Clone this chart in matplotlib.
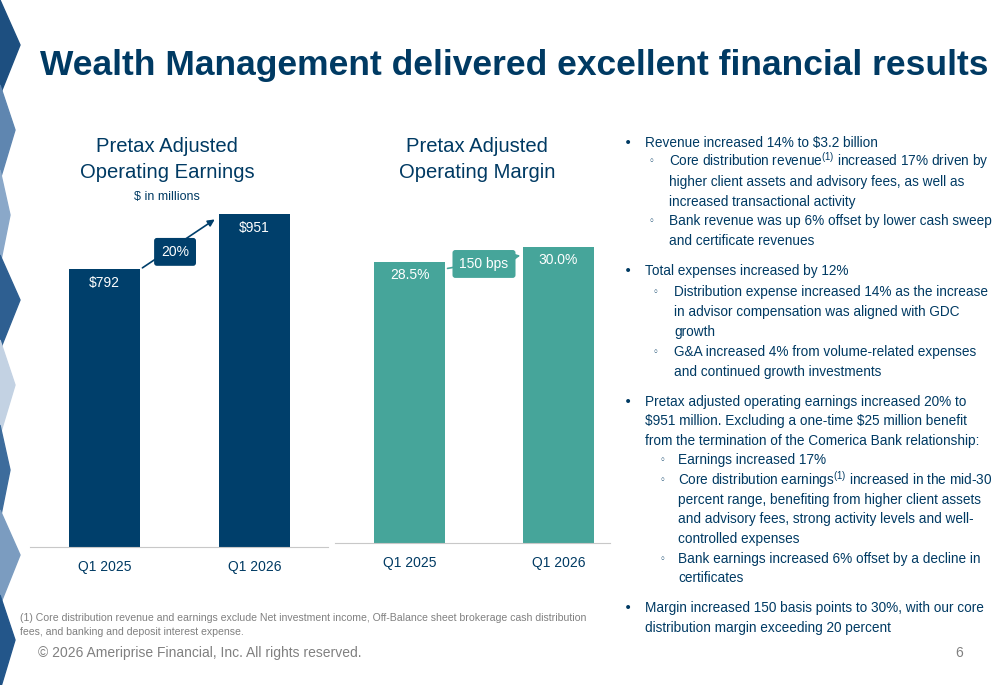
import matplotlib.pyplot as plt
from matplotlib.patches import Polygon

FAM = 'Liberation Sans'
plt.rcParams['font.family'] = [FAM, 'DejaVu Sans']
plt.rcParams['mathtext.fontset'] = 'custom'
plt.rcParams['mathtext.rm'] = FAM

quarters = ['Q1 2025', 'Q1 2026']
earnings = [792, 951]
earn_labels = ['$792', '$951']
margin = [28.5, 30.0]
margin_labels = ['28.5%', '30.0%']

NAVY = '#003f6b'
TEAL = '#46a59a'
TXT = '#003a63'

W, H = 1000, 685
fig = plt.figure(figsize=(10, 6.85), dpi=100)

def fx(px):
    return px / W

def fy(py):
    return 1 - py / H

# decorative left edge
shades = ['#1d4f80', '#5f86b0', '#8aa8c9', '#2e5f91', '#c3d2e3', '#3d6c9c', '#7b9cc0', '#23568a']
for i, y0 in enumerate(range(0, 685, 85)):
    pts = [(0, fy(y0)), (fx(20 - (i % 3) * 5), fy(y0 + 45)), (0, fy(y0 + 95))]
    fig.patches.append(Polygon(pts, closed=True, transform=fig.transFigure,
                               color=shades[i % len(shades)], zorder=0))

fig.text(fx(40), fy(66), 'Wealth Management delivered excellent financial results',
         fontsize=25.5, fontweight='bold', color=TXT, va='center', ha='left')

# left chart
ax1 = fig.add_axes([fx(30), fy(547), fx(298), 347 / H])
ax1.bar([0, 1], earnings, width=0.473, color=NAVY)
ax1.set_xlim(-0.497, -0.497 + 298 / 150)
ax1.set_ylim(0, 347 / 0.3505)
for i, (v, l) in enumerate(zip(earnings, earn_labels)):
    ax1.text(i, v - 20, l, ha='center', va='top', color='white', fontsize=10)
ax1.annotate('', xy=(0.75, 939), xytext=(0.237, 792),
             arrowprops=dict(arrowstyle='-|>', color=NAVY, lw=1.2))
ax1.text(0.47, 842, '20%', ha='center', va='center', color='white', fontsize=10,
         bbox=dict(boxstyle='round,pad=0.5,rounding_size=0.2', fc=NAVY, ec='none'))

# right chart
ax2 = fig.add_axes([fx(335), fy(543), fx(275), 343 / H])
ax2.bar([0, 1], margin, width=0.477, color=TEAL)
ax2.set_xlim(-0.5, -0.5 + 275 / 149)
ax2.set_ylim(0, 343 / 9.86)
for i, (v, l) in enumerate(zip(margin, margin_labels)):
    ax2.text(i, v - 0.6, l, ha='center', va='top', color='white', fontsize=10)
ax2.annotate('', xy=(0.762, 29.2), xytext=(0.237, 27.8),
             arrowprops=dict(arrowstyle='-|>', color=TEAL, lw=1.2))
ax2.text(0.5, 28.3, '150 bps', ha='center', va='center', color='white', fontsize=10,
         bbox=dict(boxstyle='round,pad=0.5,rounding_size=0.2', fc=TEAL, ec='none'))

for ax in (ax1, ax2):
    ax.set_xticks([0, 1], quarters)
    ax.tick_params(axis='x', length=0, labelsize=10, colors=TXT, pad=9)
    ax.set_yticks([])
    for s in ('top', 'left', 'right'):
        ax.spines[s].set_visible(False)
    ax.spines['bottom'].set_color('#c8c8c8')

ts = 14.6
fig.text(fx(167), fy(146), 'Pretax Adjusted', ha='center', va='center', fontsize=ts, color=TXT)
fig.text(fx(167), fy(173), 'Operating Earnings', ha='center', va='center', fontsize=ts, color=TXT)
fig.text(fx(167), fy(197), '$ in millions', ha='center', va='center', fontsize=9, color=TXT)
fig.text(fx(477), fy(146), 'Pretax Adjusted', ha='center', va='center', fontsize=ts, color=TXT)
fig.text(fx(477), fy(173), 'Operating Margin', ha='center', va='center', fontsize=ts, color=TXT)

# bullet text (level, y, text)
lines = [
    (0, 143, 'Revenue increased 14% to \\$3.2 billion'),
    (1, 161, 'Core distribution revenue$^{(1)}$ increased 17% driven by'),
    (2, 182, 'higher client assets and advisory fees, as well as'),
    (2, 202, 'increased transactional activity'),
    (1, 221, 'Bank revenue was up 6% offset by lower cash sweep'),
    (2, 241, 'and certificate revenues'),
    (0, 271, 'Total expenses increased by 12%'),
    (3, 292, 'Distribution expense increased 14% as the increase'),
    (4, 312, 'in advisor compensation was aligned with GDC'),
    (4, 332, 'growth'),
    (3, 352, 'G&A increased 4% from volume-related expenses'),
    (4, 372, 'and continued growth investments'),
    (0, 402, 'Pretax adjusted operating earnings increased 20% to'),
    (5, 421, '\\$951 million. Excluding a one-time \\$25 million benefit'),
    (5, 441, 'from the termination of the Comerica Bank relationship:'),
    (6, 460, 'Earnings increased 17%'),
    (6, 480, 'Core distribution earnings$^{(1)}$ increased in the mid-30'),
    (7, 500, 'percent range, benefiting from higher client assets'),
    (7, 519, 'and advisory fees, strong activity levels and well-'),
    (7, 539, 'controlled expenses'),
    (6, 559, 'Bank earnings increased 6% offset by a decline in'),
    (7, 578, 'certificates'),
    (0, 608, 'Margin increased 150 basis points to 30%, with our core'),
    (5, 628, 'distribution margin exceeding 20 percent'),
]
xs = {0: 645, 1: 669, 2: 669, 3: 674, 4: 674, 5: 645, 6: 678, 7: 678}
marks = {0: ('\u2022', 624), 1: ('\u25e6', 649), 3: ('\u25e6', 653), 6: ('\u25e6', 660)}
bs = 9.8
for lvl, y, t in lines:
    fig.text(fx(xs[lvl]), fy(y), t, fontsize=bs, color=TXT, va='center', ha='left')
    if lvl in marks:
        m, mx = marks[lvl]
        fig.text(fx(mx), fy(y), m, fontsize=10 if lvl == 0 else 7, color=TXT,
                 va='center', ha='left', family=['DejaVu Sans'])

fig.text(fx(20), fy(618), '(1) Core distribution revenue and earnings exclude Net investment income, '
         'Off-Balance sheet brokerage cash distribution', fontsize=7.6, color='#808080', va='center')
fig.text(fx(20), fy(632), 'fees, and banking and deposit interest expense.', fontsize=7.6,
         color='#808080', va='center')
fig.text(fx(38), fy(653), '\u00a9 2026 Ameriprise Financial, Inc. All rights reserved.',
         fontsize=10, color='#808080', va='center')
fig.text(fx(955), fy(653), '6', fontsize=10, color='#808080', va='center')

fig.savefig('out.png', dpi=100)
